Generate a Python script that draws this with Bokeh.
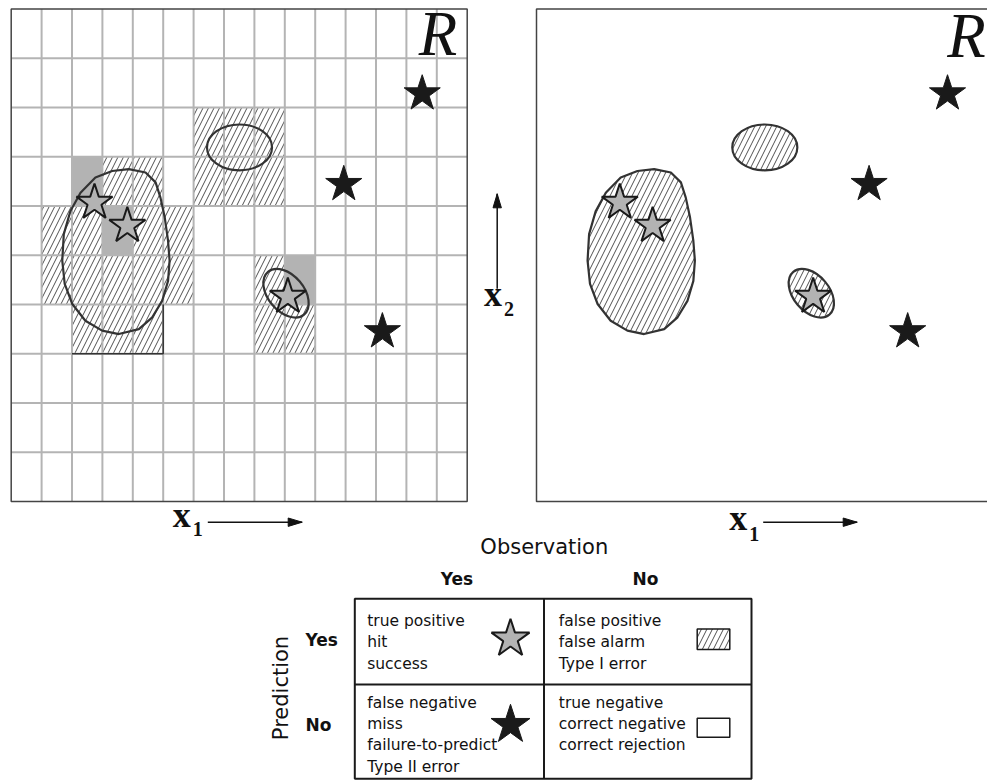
from bokeh.plotting import figure
from bokeh.models import Range1d
from bokeh.embed import file_html
from bokeh.resources import INLINE
from bokeh.core.properties import value
import math

# ---------------- data (grid units: x1 in 0..15 columns, x2 in 0..10 rows from bottom) ----------------
N_COLS = 15
N_ROWS = 10

# forecast grid cells flagged as "event" (hatched) and hit cells (gray)
HATCH_COL = [6, 7, 8, 3, 4, 6, 7, 8, 1, 2, 4, 5, 1, 2, 3, 4, 5, 8, 2, 3, 4, 8, 9]
HATCH_ROW = [7, 7, 7, 6, 6, 6, 6, 6, 5, 5, 5, 5, 4, 4, 4, 4, 4, 4, 3, 3, 3, 3, 3]
GRAY_COL = [2, 3, 9]
GRAY_ROW = [6, 5, 4]

# large forecast region outline
BLOB_X = [3.87, 4.42, 4.75, 4.91, 5.05, 5.16, 5.21, 5.16, 4.97, 4.64, 4.20,
          3.54, 2.99, 2.44, 2.01, 1.76, 1.68, 1.73, 1.95, 2.28, 2.77, 3.32]
BLOB_Y = [6.75, 6.68, 6.48, 6.17, 5.77, 5.29, 4.89, 4.48, 4.08, 3.74, 3.50,
          3.40, 3.47, 3.67, 4.01, 4.42, 4.89, 5.43, 5.90, 6.27, 6.58, 6.71]

# small forecast regions (ellipses)
ELL_X = [7.51, 9.04]
ELL_Y = [7.19, 4.23]
ELL_W = [2.14, 1.84]
ELL_H = [0.93, 0.73]
ELL_ANGLE = [0.0, -0.87]

# observed events: hits (gray stars) and misses (black stars)
HIT_X = [2.74, 3.82, 9.10]
HIT_Y = [6.07, 5.60, 4.16]
MISS_X = [13.52, 10.94, 12.21]
MISS_Y = [8.28, 6.44, 3.45]

# contingency table text
OBS_TITLE = "Observation"
PRED_TITLE = "Prediction"
COL_LABELS = ["Yes", "No"]
ROW_LABELS = ["Yes", "No"]
CELL_TL = ["true positive", "hit", "success"]
CELL_TR = ["false positive", "false alarm", "Type I error"]
CELL_BL = ["false negative", "miss", "failure-to-predict", "Type II error"]
CELL_BR = ["true negative", "correct negative", "correct rejection"]

# ---------------- layout (image pixels) ----------------
W, H = 987, 783
PAGE = 0
CW = 30.4          # px per column
CH = 49.25         # px per row
GX0 = 10.7         # image x of grid left edge
GY0 = 501.0        # image y of grid bottom edge
OFFSET = (536.0 - GX0) / CW   # right panel shift in grid units
BASE_K = 0.40      # baseline correction (fraction of font size)


def X(px):
    return (px - GX0) / CW


def Y(py):
    return (GY0 - py) / CH


def YB(py, fs, k=BASE_K):
    # baseline position corrected for the renderer's text placement
    return Y(py - k * fs)


p = figure(width=W, height=H, output_backend="svg", toolbar_location=None,
           x_range=Range1d(X(PAGE), X(PAGE + W)), y_range=Range1d(Y(PAGE + H), Y(PAGE)),
           x_axis_type=None, y_axis_type=None, min_border=0)
p.outline_line_color = None
p.background_fill_color = "white"
p.border_fill_color = "white"
for g in p.grid:
    g.visible = False

DARK = "#1a1a1a"
LINE = "#333333"
GRAYF = "#b3b3b3"
HATCH = dict(hatch_pattern="/", hatch_scale=11, hatch_weight=0.8, hatch_color="#222222")
SERIF = value("Liberation Serif")
SANS = value("DejaVu Sans")
STAR = 38

# ---------------- left panel: gridded forecast ----------------
p.quad(left=HATCH_COL, right=[c + 1 for c in HATCH_COL], bottom=HATCH_ROW, top=[r + 1 for r in HATCH_ROW],
       fill_color="white", line_color=None, **HATCH)
p.quad(left=GRAY_COL, right=[c + 1 for c in GRAY_COL], bottom=GRAY_ROW, top=[r + 1 for r in GRAY_ROW],
       fill_color=GRAYF, line_color=None)
vx = list(range(1, N_COLS))
hy = list(range(1, N_ROWS))
p.segment(x0=vx, y0=[0] * len(vx), x1=vx, y1=[N_ROWS] * len(vx), line_color="#b4b4b4", line_width=2)
p.segment(x0=[0] * len(hy), y0=hy, x1=[N_COLS] * len(hy), y1=hy, line_color="#b4b4b4", line_width=2)
p.line(x=[5, 5, 2], y=[4, 3, 3], line_color=LINE, line_width=1.5)
p.quad(left=[0], right=[N_COLS], bottom=[0], top=[N_ROWS], fill_color=None, line_color="#444444", line_width=1.5)

p.patch(BLOB_X, BLOB_Y, fill_color=None, line_color=LINE, line_width=2.2)
p.ellipse(x=ELL_X, y=ELL_Y, width=ELL_W, height=ELL_H, angle=ELL_ANGLE,
          fill_color=None, line_color=LINE, line_width=2.2)
p.scatter(HIT_X, HIT_Y, marker="star", size=STAR, fill_color=GRAYF, line_color=DARK, line_width=2)
p.scatter(MISS_X, MISS_Y, marker="star", size=STAR, fill_color=DARK, line_color=DARK, line_width=1)

# ---------------- right panel: object forecast ----------------
p.quad(left=[OFFSET], right=[OFFSET + N_COLS], bottom=[0], top=[N_ROWS], fill_color=None,
       line_color="#444444", line_width=1.5)
p.patch([x + OFFSET for x in BLOB_X], BLOB_Y, fill_color="white", line_color=LINE, line_width=2.2, **HATCH)
p.ellipse(x=[x + OFFSET for x in ELL_X], y=ELL_Y, width=ELL_W, height=ELL_H, angle=ELL_ANGLE,
          fill_color="white", line_color=LINE, line_width=2.2, **HATCH)
p.scatter([x + OFFSET for x in HIT_X], HIT_Y, marker="star", size=STAR, fill_color=GRAYF, line_color=DARK, line_width=2)
p.scatter([x + OFFSET for x in MISS_X], MISS_Y, marker="star", size=STAR, fill_color=DARK, line_color=DARK, line_width=1)

# "R" labels
p.text(x=[X(437.5), X(966)], y=[YB(56, 63, 0.35), YB(58, 63, 0.35)], text=["R", "R"], text_font=SERIF,
       text_font_style="italic", text_font_size="63px", text_align="center", text_baseline="alphabetic",
       text_color="#111111")


# ---------------- axis arrows ----------------
def arrow(x0, y0, x1, y1, head=14, half=4.2):
    p.line(x=[X(x0), X(x1)], y=[Y(y0), Y(y1)], line_color="#111111", line_width=1.5)
    dx, dy = x1 - x0, y1 - y0
    L = math.hypot(dx, dy)
    ux, uy = dx / L, dy / L
    bx, by = x1 - ux * head, y1 - uy * head
    px_, py_ = -uy, ux
    p.patch([X(x1), X(bx + px_ * half), X(bx - px_ * half)],
            [Y(y1), Y(by + py_ * half), Y(by - py_ * half)], fill_color="#111111", line_color="#111111")


arrow(207.3, 521.7, 301.7, 521.7)
arrow(762.7, 521.7, 856.7, 521.7)
arrow(496.7, 288.3, 496.7, 193.3)

p.text(x=[X(172.2), X(728.8), X(483.5)], y=[YB(529.3, 36), YB(532.3, 36), YB(308.3, 36)], text=["x", "x", "x"],
       text_font=SERIF, text_font_style="bold", text_font_size="36px", text_align="left",
       text_baseline="alphabetic", text_color="#111111")
p.text(x=[X(192.2), X(748.8), X(503.5)], y=[YB(536.7, 20), YB(541.7, 20), YB(316.7, 20)], text=["1", "1", "2"],
       text_font=SERIF, text_font_style="bold", text_font_size="20px", text_align="left",
       text_baseline="alphabetic", text_color="#111111")

# ---------------- contingency table ----------------
TL, TR_, TT, TB = 354.3, 751.0, 598.3, 778.3
MIDX, MIDY = 543.5, 684.0
p.quad(left=[X(TL)], right=[X(TR_)], bottom=[Y(TB)], top=[Y(TT)], fill_color=None, line_color=DARK, line_width=2)
p.segment(x0=[X(MIDX), X(TL)], y0=[Y(TT), Y(MIDY)], x1=[X(MIDX), X(TR_)], y1=[Y(TB), Y(MIDY)],
          line_color=DARK, line_width=2)

p.text(x=[X(543.8)], y=[YB(555, 21)], text=[OBS_TITLE], text_font=SANS, text_font_size="21px",
       text_align="center", text_baseline="alphabetic", text_color="#111111")
p.text(x=[X(280)], y=[Y(687.5)], text=[PRED_TITLE], text_font=SANS, text_font_size="21px", angle=math.pi / 2,
       text_align="center", text_baseline="middle", text_color="#111111")
p.text(x=[X(456.5), X(645)], y=[YB(585, 17), YB(585, 17)], text=COL_LABELS, text_font=SANS,
       text_font_style="bold", text_font_size="17px", text_align="center", text_baseline="alphabetic",
       text_color="#111111")
p.text(x=[X(305), X(305)], y=[YB(646.7, 17), YB(731.7, 17)], text=ROW_LABELS, text_font=SANS,
       text_font_style="bold", text_font_size="17px", text_align="left", text_baseline="alphabetic",
       text_color="#111111")

LH = 21.3
FS = 15.5
for lines, x0, y0 in [(CELL_TL, 366.7, 626.7), (CELL_TR, 558.3, 626.7),
                      (CELL_BL, 366.7, 708.3), (CELL_BR, 558.3, 708.3)]:
    p.text(x=[X(x0)] * len(lines), y=[YB(y0 + i * LH, FS) for i in range(len(lines))], text=lines,
           text_font=SANS, text_font_size=f"{FS}px", text_align="left", text_baseline="alphabetic",
           text_color="#111111")

# legend symbols inside table
p.scatter([X(510)], [Y(638.3)], marker="star", size=40, fill_color=GRAYF, line_color=DARK, line_width=2)
p.scatter([X(510)], [Y(724.3)], marker="star", size=41, fill_color=DARK, line_color=DARK, line_width=1)
p.quad(left=[X(696.7)], right=[X(729.3)], bottom=[Y(649)], top=[Y(628.5)], fill_color="white",
       line_color=DARK, line_width=1.5, **HATCH)
p.quad(left=[X(696.7)], right=[X(729.3)], bottom=[Y(736.7)], top=[Y(717.7)], fill_color="white",
       line_color=DARK, line_width=1.5)

open("out.html", "w").write(file_html(p, INLINE))
